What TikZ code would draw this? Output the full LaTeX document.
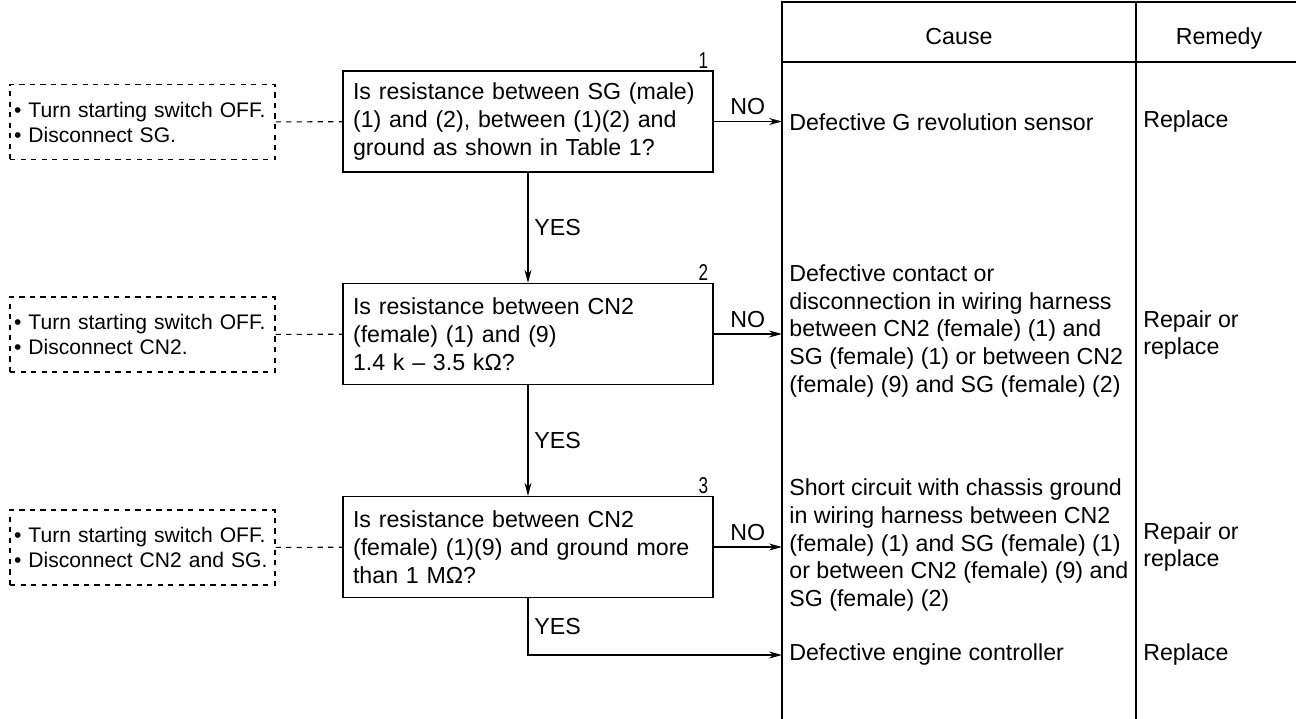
\documentclass[tikz,border=0pt]{standalone}
\usepackage{fontspec}
\setmainfont{Liberation Sans}
\newfontfamily\numfont{Liberation Sans}[FakeStretch=0.75]
\usetikzlibrary{arrows.meta, positioning}
\tikzset{
    txt/.style={font=\fontsize{13.2}{15.9}\selectfont},
    test/.style={draw, line width=0.8pt, align=left, text width=7.0cm, inner xsep=0.2cm, minimum height=2.02cm, txt},
    prep/.style={draw, dashed, line width=0.6pt, align=left, text width=5.14cm, inner xsep=0.08cm, minimum height=1.5cm, font=\fontsize{12}{14.2}\selectfont},
    cell/.style={anchor=west, align=left, inner xsep=0.14cm, txt},
    num/.style={anchor=south east, inner sep=1pt, font=\numfont\fontsize{13}{13}\selectfont},
    flow/.style={-{Stealth[length=0.26cm, width=0.14cm]}, line width=0.6pt},
    link/.style={dashed, line width=0.6pt}
}

\begin{document}
\begin{tikzpicture}[x=0.02cm, y=-0.02cm]
    \useasboundingbox (0,0) rectangle (1296,719);
    % table frame
    \draw [line width=0.8pt] (782,719) -- (782,2) -- (1296,2);
    \draw [line width=0.8pt] (782,62) -- (1296,62);
    \draw [line width=0.8pt] (1136,2) -- (1136,719);
    \node [txt, anchor=base] (hcause) at (959,45) {Cause};
    \node [txt, anchor=base] (hremedy) at (1219,45) {Remedy};

    % checks
    \node [test] (q1) at (528,121.5) {Is resistance between SG (male)\\(1) and (2), between (1)(2) and\\ground as shown in Table 1?};
    \node [test] (q2) at (528,334) {Is resistance between CN2\\(female) (1) and (9)\\1.4 k – 3.5 kΩ?};
    \node [test] (q3) at (528,547) {Is resistance between CN2\\(female) (1)(9) and ground more\\than 1 MΩ?};
    \node [num] at ([xshift=-2pt]q1.north east) {1};
    \node [num] at ([xshift=-2pt]q2.north east) {2};
    \node [num] at ([xshift=-2pt]q3.north east) {3};

    % preparations
    \node [prep] (p1) at (142.5,122) {• Turn starting switch OFF.\\• Disconnect SG.};
    \node [prep] (p2) at (142.5,334.5) {• Turn starting switch OFF.\\• Disconnect CN2.};
    \node [prep] (p3) at (142.5,547.5) {• Turn starting switch OFF.\\• Disconnect CN2 and SG.};

    % causes and remedies
    \node [cell] (c1) at (782,122) {Defective G revolution sensor};
    \node [cell] (c2) at (782,331) {Defective contact or\\disconnection in wiring harness\\between CN2 (female) (1) and\\SG (female) (1) or between CN2\\(female) (9) and SG (female) (2)};
    \node [cell] (c3) at (782,545) {Short circuit with chassis ground\\in wiring harness between CN2\\(female) (1) and SG (female) (1)\\or between CN2 (female) (9) and\\SG (female) (2)};
    \node [cell] (c4) at (782,655) {Defective engine controller};
    \node [cell] (r1) at (1136,122) {Replace};
    \node [cell] (r2) at (1136,335) {Repair or\\replace};
    \node [cell] (r3) at (1136,547) {Repair or\\replace};
    \node [cell] (r4) at (1136,655) {Replace};

    % connectors
    \draw [link] (p1) -- (q1);
    \draw [link] (p2) -- (q2);
    \draw [link] (p3) -- (q3);
    \draw [flow] (q1.east) -- node [above, txt] {NO} (q1.east -| c1.west);
    \draw [flow] (q2.east) -- node [above, txt] {NO} (q2.east -| c2.west);
    \draw [flow] (q3.east) -- node [above, txt] {NO} (q3.east -| c3.west);
    \draw [flow] (q1) -- node [right, txt] {YES} (q2);
    \draw [flow] (q2) -- node [right, txt] {YES} (q3);
    \draw [flow] (q3.south) -- node [right, txt] {YES} (q3.south |- c4.west) -- (c4.west);
\end{tikzpicture}
\end{document}
